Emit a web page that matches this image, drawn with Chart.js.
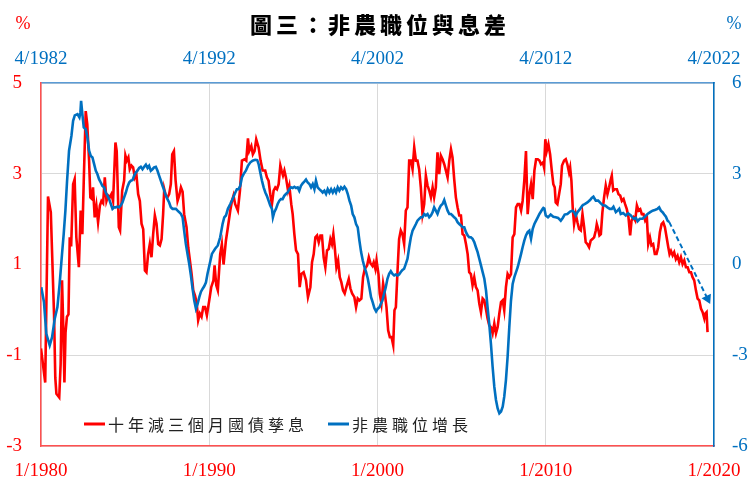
<!DOCTYPE html>
<html>
<head>
<meta charset="utf-8">
<script src="https://cdn.jsdelivr.net/npm/chart.js@4.4.1/dist/chart.umd.min.js"></script>
<style>
  html, body { margin: 0; padding: 0; background: #fff; }
  #wrap { width: 748px; height: 477px; }
</style>
</head>
<body>
<div id="wrap"><canvas id="chart" width="748" height="477"></canvas></div>
<script>
// 標題與圖例
const chartTitle = '圖三：非農職位與息差';
const spreadLabel = '十年減三個月國債孳息';
const payrollLabel = '非農職位增長';

// 月份 = 自 1/1980 起的月數 (左軸 %)
const spreadX = [0,3,5,7,9.3,10.2,11,13,14,15,16,16.7,17.5,18.5,19.6,20.5,21.5,22.9,24,25.2,27,28.3,29.5,30.5,31.9,33,34.3,35.2,36.2,37.1,38.3,39.5,40.7,42,43.1,44.3,45.5,46.7,47.9,49,50.2,51.4,53.1,54,55.5,56.4,57.9,59.3,60.2,61.2,62.3,63.3,64.5,65.7,66.9,68,69.3,70.5,71.7,72.9,74.1,75.2,76.4,77.6,78.8,80,81.2,82.4,83.6,84.8,86,87.1,87.9,89,90.2,91.4,92.6,93.6,94.8,96,97.4,98.6,99.8,101,102.1,103.8,105,106.2,107.4,108.6,109.8,111,112.1,113.3,114.5,115.7,117,118.3,120,121.4,123,123.8,125,126.1,127.8,129,130.2,131.9,133.3,135,136.2,137.3,138.5,140.4,141.9,143.3,145.2,146.4,147.6,148.5,150,151.1,152.3,153.5,155.2,156.6,158.1,159.9,161.1,162.3,163.5,164.7,165.9,167.1,168.3,169.5,170.7,171.6,172.6,173.6,174.7,176.2,177.1,178.5,179.5,180.7,181.9,183.3,184.5,185.7,187.3,189,190.4,192.1,193.3,194.5,195.7,196.9,198.1,199.3,200.4,201.6,202.8,204,205.2,206.4,207.5,208.5,209.5,210.7,211.9,213.1,214.2,215.4,216.6,217.8,219.5,220.7,221.9,223.5,224.7,225.9,227.1,228.5,229.7,230.9,232.6,233.8,235,236.4,237.3,238.5,239.3,240.7,241.6,242.8,244,245.2,246.4,247.6,248.8,250,251.2,252.1,253.1,254.3,255.4,256.6,257.8,259,260.2,261.4,262.6,263.8,265,266.2,267.4,268.5,269.7,270.9,272.1,273.3,274.5,275.7,276.9,278.1,279.3,280.4,281.6,282.8,284,285.2,286.4,287.6,288.8,290,291.2,292.4,293.5,294.7,295.9,297.1,298.3,299.5,300.7,301.9,303.1,304.3,305.4,306.6,307.8,309,310.2,311.4,312.6,313.8,315,316.2,317.4,318.5,319.7,320.9,322.1,323.3,324.5,325.7,326.9,328.1,329.3,330.4,331.6,332.8,334,335.2,336.4,337.6,338.8,340,341.2,342.4,343.5,344.7,345.9,347.1,348.3,349.5,350.7,351.9,353.1,354.3,355.5,356.6,358,358.8,359.7,360.7,361.9,363.1,364.3,365.4,366.4,367.1,368.3,369.5,370.7,371.6,373.1,374.3,375.4,376.6,377.4,378.3,379.3,380.2,381.4,382.6,383.8,385,386.2,387.4,388.5,389.7,390.9,392.1,393.3,394.5,395.7,396.4,397.4,398.3,399.3,400.4,401.6,402.8,404,405.2,406.4,407.1,408.1,409.3,410.7,411.9,413.1,414.3,415.5,416.6,417.8,419,420.2,421.2,422.6,423.8,425,426.2,427.4,428.5,429.7,430.9,432.1,433.1,434.3,435.4,436.6,437.8,439,440.2,441.4,442.6,443.8,445,446.2,447.4,448.3,449.3,450.5,451.6,452.8,454,455.2,456.4,457.6,458.8,460,461.2,462.4,463.6,464.7,465.9,467.1,468.3,469.5,470.7,471.9,473.1,473.8,474.7,475.4];
const spreadY = [-0.85,-1.6,2.5,2.15,-0.1,-1.5,-1.85,-1.93,-1.2,0.65,-0.5,-1.6,-0.5,-0.15,-0.1,1.6,1.4,2.77,2.88,1.6,0.94,2.19,1.67,2.85,4.38,4.09,3.29,2.48,2.45,2.7,2.04,2.3,1.93,2.3,2.4,2.35,2.92,2.4,2.52,2.48,2.55,2.4,3.69,3.5,1.82,1.75,2.63,2.85,3.4,3.29,3.36,3.1,3.18,3.14,2.92,3.0,2.55,2.4,1.9,1.78,0.87,0.83,1.23,1.45,1.16,1.67,2.08,1.9,1.45,1.42,1.56,2.11,2.66,2.52,2.48,2.55,2.77,3.43,3.5,2.85,2.4,2.52,2.7,2.6,2.11,1.82,1.38,1.09,0.79,0.43,0.32,0.17,-0.23,-0.08,-0.15,0.06,0.06,-0.12,0.21,0.5,0.65,0.98,0.54,0.43,1.23,1.45,1.0,1.53,1.82,2.19,2.4,2.52,2.33,2.19,2.63,3.29,3.32,3.29,3.78,3.5,3.61,3.43,3.5,3.76,3.58,3.29,3.07,3.07,2.92,2.85,2.55,2.33,2.63,2.7,2.66,2.77,3.18,3.07,2.96,3.07,2.92,2.63,2.74,2.33,2.11,1.67,1.31,1.23,0.5,0.79,0.83,0.65,0.28,0.5,1.05,1.23,1.6,1.64,1.49,1.64,1.64,1.16,0.94,1.31,1.34,1.56,1.45,1.67,1.38,0.94,1.09,0.72,0.61,0.43,0.36,0.5,0.68,0.47,0.36,0.28,0.06,0.25,0.21,0.25,0.72,0.9,0.98,1.16,1.03,0.97,1.05,0.9,1.09,0.79,0.36,0.14,0.58,0.36,0.06,-0.45,-0.6,-0.6,-0.78,-0.01,0.06,0.87,1.56,1.75,1.67,1.45,2.19,2.26,3.29,3.29,3.1,3.58,3.29,3.29,3.1,2.7,2.11,2.33,2.96,2.74,2.63,2.48,2.7,2.48,2.7,3.47,2.99,3.4,3.32,3.21,3.07,2.92,3.29,3.54,3.36,2.88,2.48,2.26,2.08,2.08,1.67,1.64,1.45,1.23,0.83,0.79,0.54,0.72,0.5,0.43,0.14,-0.05,0.25,0.21,0.01,-0.19,-0.34,-0.38,-0.52,-0.3,-0.52,-0.38,-0.08,0.17,0.21,-0.01,0.5,0.79,0.72,0.79,1.6,1.67,2.26,2.33,2.33,2.19,2.4,2.85,3.5,2.11,2.55,2.77,2.44,3.07,3.32,3.32,3.29,3.21,3.25,3.14,3.76,3.5,3.65,3.43,3.07,2.77,2.7,2.37,2.33,2.55,2.77,3.18,3.29,3.32,3.21,3.03,3.14,2.85,2.22,1.89,2.11,1.93,1.78,1.75,2.11,1.82,1.49,1.45,1.38,1.53,1.56,1.6,1.75,1.89,1.78,1.64,1.67,2.15,2.48,2.74,2.55,2.7,2.88,2.96,2.63,2.66,2.66,2.55,2.52,2.4,2.44,2.33,2.22,2.04,1.64,1.97,2.04,1.97,2.3,2.19,2.22,2.11,2.11,1.97,2.04,1.45,1.6,1.42,1.45,1.23,1.23,1.38,1.71,1.89,1.93,1.82,1.6,1.38,1.23,1.3,1.2,1.27,1.12,1.19,1.05,1.16,1.01,1.09,0.94,0.94,0.83,0.83,0.72,0.65,0.43,0.25,0.21,0.03,-0.05,-0.19,-0.08,-0.05,-0.49];

// 月份 = 自 4/1982 起的月數 (右軸 %)
const payrollX = [0.2,2.1,3.8,6.2,7.9,9.8,11.7,13.3,15,16.2,17.4,18.6,20,21.7,22.9,24.1,26,27.4,28.1,28.6,29.5,30.5,31.9,33.1,34.3,35.5,36.7,37.9,39.1,40.2,41.4,42.6,43.8,45,46.2,47.4,48.6,49.8,51,52.1,53.3,54.5,55.7,56.9,58.1,59.3,60.5,61.7,62.9,64.1,65.3,66.4,67.6,68.8,70,71.2,72.4,73.6,74.8,76,77.1,78.3,79.5,80.7,81.9,83.1,84.3,85.5,86.7,87.9,89.1,90.2,91.4,92.6,93.8,95,96.2,97.4,98.6,99.8,101,102.1,103.3,104.5,105.7,106.9,108.1,109.3,110.5,111.7,112.9,114.1,115.3,116.4,117.6,118.8,120,121.9,124.2,126.1,127.8,129.5,130.7,131.9,133.3,135,136.6,138.1,139.7,140.9,142.1,143.3,144.5,146.1,147.6,149.2,150.9,152.8,154.2,155.2,156.4,157.6,158.8,160,161.1,162.3,163.5,164.7,165.4,166.4,167.6,168.8,170,171.1,172.3,173.5,174.7,175.9,177.1,178.3,179.5,180.7,181.9,183.1,184.2,185.4,186.6,187.8,189,190.2,191.4,192.6,193.8,195,196.1,197.3,198.5,199.7,200.9,202.1,203.3,204.5,205.7,206.9,208.1,209.3,210.4,211.6,212.8,214,215.2,216.4,217.6,218.8,220,221.2,222.3,223.5,224.7,225.9,227.1,228.3,229.5,230.7,231.9,233.1,234.2,235.4,236.6,237.8,239,240.2,241.4,242.4,243.5,244.7,245.9,247.1,248.3,249.5,250.7,251.9,253.1,254.3,255.4,256.6,257.8,259,260.2,261.4,262.6,263.8,265,266.2,267.4,268.5,269.7,270.9,272.1,273.3,274.5,275.7,276.9,278.1,279.3,280.4,281.6,282.8,284,285.2,286.4,287.6,288.8,290,291.2,292.4,293.5,294.7,295.9,297.1,298.3,299.5,300.7,301.9,303.1,304.3,305.4,306.6,307.8,309,310.2,311.4,312.6,313.8,315,316.2,317.4,318.5,319.7,320.9,322.1,323.3,324.5,325.7,326.9,328.1,329.3,330.4,331.6,332.8,334,335.2,336.4,337.6,338.8,340,341.2,342.4,343.5,344.7,345.9,347.1,348.3,349.5,350.7,351.9,353.1,354.3,355.5,356.6,357.8,358.3,359,360,361.6,363.5,365.4,367.1,368.8,370.7,372.1,373.5,375.4,377.4,379,380.2,381.4,382.6,384.5,386.2,387.8,389.7,391.6,392.8,394,395.7,397.4,399.3,400.9,402.4,404,405.7,407.1,408.3,410,411.2,412.4,413.5,415.2,417.1,418.8,420.7,422.6,424.3,425.5,427.1,429,430.7,432.6,434.5,436.2,437.8,439.7,440.9,442.1,443.3,444.5,445.7,446.9,448.1];
const payrollY = [-0.75,-1.24,-2.29,-2.67,-2.4,-1.79,-1.41,-0.64,0.35,1.01,1.78,2.77,3.76,4.25,4.75,4.93,4.97,4.86,5.02,5.41,4.97,4.53,4.47,4.2,3.76,3.59,3.54,3.32,3.1,2.99,2.82,2.71,2.6,2.55,2.38,2.27,2.16,2.0,1.84,1.89,1.89,1.91,1.89,1.95,2.05,2.22,2.38,2.57,2.71,2.77,2.79,2.93,3.04,3.1,3.19,3.23,3.15,3.23,3.3,3.19,3.26,3.1,3.15,3.21,3.23,3.1,2.93,2.77,2.6,2.44,2.27,2.16,2.05,1.89,1.84,1.84,1.84,1.78,1.73,1.67,1.56,1.12,0.68,0.35,0.02,-0.36,-0.8,-1.19,-1.46,-1.3,-1.08,-0.9,-0.8,-0.72,-0.6,-0.3,-0.05,0.35,0.52,0.63,0.9,1.34,1.56,1.62,1.84,2.0,2.16,2.33,2.49,2.49,2.6,2.88,2.99,3.1,3.26,3.37,3.43,3.46,3.45,3.32,3.04,2.77,2.55,2.38,2.27,2.11,1.95,1.84,1.56,1.73,1.84,2.0,2.11,2.16,2.16,2.27,2.33,2.38,2.49,2.55,2.53,2.57,2.53,2.55,2.44,2.6,2.68,2.74,2.81,2.71,2.66,2.55,2.66,2.49,2.77,2.55,2.49,2.44,2.38,2.44,2.33,2.49,2.38,2.49,2.38,2.49,2.38,2.55,2.44,2.55,2.49,2.57,2.49,2.33,2.11,1.95,1.67,1.56,1.34,1.23,0.79,0.41,0.13,-0.09,-0.25,-0.47,-0.75,-1.08,-1.25,-1.45,-1.55,-1.46,-1.41,-1.3,-1.19,-0.97,-0.75,-0.47,-0.31,-0.22,-0.31,-0.36,-0.33,-0.36,-0.33,-0.25,-0.18,-0.14,0.02,0.19,0.57,0.9,1.12,1.23,1.34,1.45,1.51,1.56,1.56,1.67,1.62,1.67,1.56,1.62,1.73,1.89,1.78,1.67,1.84,1.95,2.0,2.13,1.95,1.78,1.67,1.67,1.62,1.56,1.51,1.4,1.34,1.29,1.23,1.23,1.07,0.96,0.9,0.9,0.85,0.74,0.57,0.41,0.19,-0.03,-0.25,-0.47,-0.86,-1.41,-1.96,-2.62,-3.38,-4.04,-4.48,-4.76,-4.92,-4.86,-4.7,-4.37,-3.82,-3.05,-2.07,-1.19,-0.64,-0.42,-0.25,-0.09,0.13,0.35,0.57,0.79,0.96,1.07,1.12,0.85,1.18,1.34,1.45,1.56,1.67,1.75,1.84,1.87,1.85,1.62,1.56,1.65,1.58,1.56,1.54,1.45,1.54,1.65,1.67,1.75,1.78,1.73,1.62,1.73,1.84,1.95,2.0,2.05,2.13,2.2,2.24,2.11,2.11,2.02,1.95,1.95,1.89,1.84,1.84,1.91,1.73,1.78,1.84,1.67,1.7,1.62,1.69,1.62,1.51,1.54,1.43,1.51,1.51,1.58,1.67,1.73,1.78,1.8,1.84,1.89,1.78,1.73,1.65,1.58,1.45,1.4];

// 預測 (虛線箭頭)
const trendX = [448.1, 475.4];
const trendY = [1.4, -1.13];

const RED = '#ff0000';
const BLUE = '#0070c0';
const GRID = '#d9d9d9';
const SERIF = "'Liberation Serif', 'DejaVu Serif', serif";
const CJK = "'Noto Sans CJK TC', 'Noto Sans CJK SC', sans-serif";

function toPoints(xs, ys) {
    return xs.map(function(x, i) { return { x: x, y: ys[i] }; });
}

// x 軸不為首尾標籤預留空間
function fixXAxis(h) {
    return function(s) {
        s.height = h;
        s.paddingLeft = 0;
        s.paddingRight = 0;
    };
}

// 標題、% 標記及圖例
const decorPlugin = {
    id: 'decor',
    afterDraw: function(chart) {
        const ctx = chart.ctx;
        const area = chart.chartArea;
        ctx.save();

        ctx.fillStyle = '#000';
        ctx.font = '900 22px ' + CJK;
        ctx.textAlign = 'center';
        ctx.textBaseline = 'middle';
        ctx.letterSpacing = '4px';
        ctx.fillText(chartTitle, 380, 25);
        ctx.letterSpacing = '0px';

        ctx.font = '18px ' + SERIF;
        ctx.fillStyle = RED;
        ctx.fillText('%', 23, 24);
        ctx.fillStyle = BLUE;
        ctx.fillText('%', 734, 24);

        // 圖例
        const ly = area.bottom - 22;
        ctx.font = '16px ' + CJK;
        ctx.textAlign = 'left';
        ctx.letterSpacing = '4px';
        ctx.lineWidth = 3;
        let x = area.left + 43;
        [[spreadLabel, RED], [payrollLabel, BLUE]].forEach(function(item) {
            ctx.strokeStyle = item[1];
            ctx.beginPath();
            ctx.moveTo(x, ly);
            ctx.lineTo(x + 21, ly);
            ctx.stroke();
            ctx.fillStyle = '#222';
            ctx.fillText(item[0], x + 24, ly + 1);
            x += 24 + ctx.measureText(item[0]).width + 20;
        });
        ctx.restore();
    }
};

const chart = new Chart(document.getElementById('chart'), {
    type: 'line',
    data: {
        datasets: [
            {
                label: spreadLabel,
                data: toPoints(spreadX, spreadY),
                xAxisID: 'x',
                yAxisID: 'y',
                borderColor: RED,
                borderWidth: 2.6,
                pointRadius: 0,
                tension: 0,
                order: 2
            },
            {
                label: payrollLabel,
                data: toPoints(payrollX, payrollY),
                xAxisID: 'xTop',
                yAxisID: 'yRight',
                borderColor: BLUE,
                borderWidth: 2.6,
                pointRadius: 0,
                tension: 0,
                order: 1
            },
            {
                label: payrollLabel + '（預測）',
                data: toPoints(trendX, trendY),
                xAxisID: 'xTop',
                yAxisID: 'yRight',
                borderColor: BLUE,
                backgroundColor: BLUE,
                borderWidth: 2,
                borderDash: [5, 3],
                pointRadius: [0, 4],
                pointStyle: 'triangle',
                pointRotation: 154,
                tension: 0,
                order: 0
            }
        ]
    },
    options: {
        responsive: false,
        animation: false,
        events: [],
        layout: { padding: 0 },
        plugins: {
            legend: { display: false },
            title: { display: false },
            tooltip: { enabled: false }
        },
        scales: {
            x: {
                type: 'linear',
                position: 'bottom',
                min: 0,
                max: 480,
                afterFit: fixXAxis(31),
                ticks: {
                    stepSize: 120,
                    color: RED,
                    padding: 14,
                    maxRotation: 0,
                    font: { family: SERIF, size: 19 },
                    callback: function(v) { return '1/' + (1980 + v / 12); }
                },
                grid: { color: GRID, lineWidth: 1, drawTicks: false },
                border: { color: '#ff5050', width: 1.5 }
            },
            xTop: {
                type: 'linear',
                position: 'top',
                min: 0,
                max: 480,
                afterFit: fixXAxis(83),
                ticks: {
                    stepSize: 120,
                    color: BLUE,
                    padding: 13,
                    maxRotation: 0,
                    font: { family: SERIF, size: 19 },
                    callback: function(v) { return '4/' + (1982 + v / 12); }
                },
                grid: { display: false, drawTicks: false },
                border: { color: '#5b9bd5', width: 1.5 }
            },
            y: {
                position: 'left',
                min: -3,
                max: 5,
                afterFit: function(s) { s.width = 41; },
                ticks: {
                    stepSize: 2,
                    color: RED,
                    padding: 19,
                    font: { family: SERIF, size: 19 }
                },
                grid: { color: GRID, lineWidth: 1, drawTicks: false },
                border: { color: '#ff5050', width: 1.5 }
            },
            yRight: {
                position: 'right',
                min: -6,
                max: 6,
                afterFit: function(s) { s.width = 34; },
                ticks: {
                    stepSize: 3,
                    color: BLUE,
                    padding: 18,
                    font: { family: SERIF, size: 19 }
                },
                grid: { display: false, drawTicks: false },
                border: { color: BLUE, width: 1.5 }
            }
        }
    },
    plugins: [decorPlugin]
});
</script>
</body>
</html>
